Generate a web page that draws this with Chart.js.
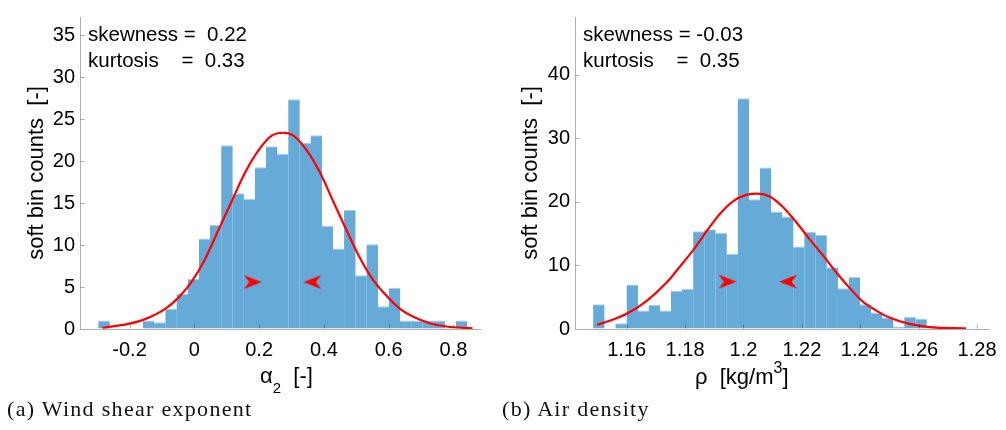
<!DOCTYPE html>
<html>
<head>
<meta charset="utf-8">
<script src="https://cdn.jsdelivr.net/npm/chart.js@4.4.1/dist/chart.umd.min.js"></script>
<style>
  body { margin: 0; width: 1006px; height: 430px; background: #fff; position: relative; overflow: hidden; }
  canvas { position: absolute; top: 0; }
  #alphaChart { left: 0; }
  #rhoChart { left: 500px; }
  .caption { position: absolute; top: 398px; font-family: "Liberation Serif", serif; font-size: 22px; line-height: 22px; letter-spacing: 1.3px; color: #111; white-space: nowrap; }
</style>
</head>
<body>
<canvas id="alphaChart" width="500" height="400"></canvas>
<canvas id="rhoChart" width="506" height="400"></canvas>
<div class="caption" style="left:7px">(a) Wind shear exponent</div>
<div class="caption" style="left:502px">(b) Air density</div>
<script>
// ---- wind shear exponent alpha_2 ----
const alphaBins = [-0.2788, -0.2443, -0.2098, -0.1753, -0.1408, -0.1063, -0.0718, -0.0373, -0.0028,
  0.0317, 0.0662, 0.1007, 0.1352, 0.1697, 0.2042, 0.2387, 0.2732, 0.3077, 0.3422, 0.3767, 0.4112,
  0.4457, 0.4802, 0.5147, 0.5492, 0.5837, 0.6182, 0.6527, 0.6872, 0.7217, 0.7562, 0.7907, 0.8252];
const alphaCounts = [1, 0, 0, 0, 1, 0.8, 2.4, 4.2, 6.0, 10.8, 12.4, 21.9, 16.2, 15.5, 19.3, 21.8, 20.9,
  27.4, 22.2, 23.1, 12.3, 9.6, 14.2, 6.4, 10.1, 2.7, 4.9, 1, 1, 1, 1, 0, 1];
const alphaFitX = [-0.284, -0.204, -0.152, -0.090, -0.049, -0.008, 0.033, 0.074, 0.115, 0.156, 0.198,
  0.239, 0.275, 0.306, 0.347, 0.388, 0.429, 0.470, 0.511, 0.552, 0.594, 0.635, 0.676, 0.727, 0.779, 0.859];
const alphaFitY = [0.15, 0.61, 1.18, 2.4, 3.74, 5.65, 8.33, 11.77, 15.2, 18.6, 21.3,
  23.05, 23.4, 23.05, 21.3, 18.65, 15.2, 11.77, 8.5, 5.85, 3.93, 2.4, 1.45, 0.69, 0.3, 0.07];
const alphaArrowX = [0.208, 0.3365];
const alphaArrowY = [5.6, 5.6];
const alphaTicksX = [-0.2, 0, 0.2, 0.4, 0.6, 0.8];
const alphaTicksY = [0, 5, 10, 15, 20, 25, 30, 35];
const alphaStats = ['skewness =  0.22', 'kurtosis    =  0.33'];

// ---- air density rho ----
const rhoBins = [1.15048, 1.15429, 1.15809, 1.16190, 1.16570, 1.16951, 1.17331, 1.17712, 1.18092, 1.18473,
  1.18853, 1.19234, 1.19614, 1.19995, 1.20375, 1.20756, 1.21136, 1.21517, 1.21897, 1.22278,
  1.22658, 1.23039, 1.23419, 1.23800, 1.24180, 1.24561, 1.24941, 1.25322, 1.25702, 1.26083];
const rhoCounts = [3.9, 0, 0.9, 7.0, 2.9, 3.8, 2.9, 6.0, 6.3, 15.4, 15.7, 15.1, 11.8, 36.3, 20.4,
  25.4, 18.5, 17.7, 13.0, 15.3, 14.8, 9.7, 6.4, 8.2, 3.9, 2.6, 1.8, 0.4, 1.9, 1.6];
const rhoFitX = [1.1499, 1.1554, 1.1600, 1.1668, 1.1737, 1.1782, 1.1828, 1.1874, 1.1919, 1.1964, 1.2010,
  1.2050, 1.2090, 1.2135, 1.2181, 1.2227, 1.2272, 1.2318, 1.2363, 1.2409, 1.2455, 1.2500, 1.2568, 1.2637, 1.2762];
const rhoFitY = [0.65, 1.5, 2.4, 4.4, 7.3, 9.8, 12.4, 15.4, 18.1, 20.1, 21.1,
  21.3, 20.85, 19.2, 16.8, 14.1, 11.6, 8.9, 6.5, 4.3, 2.9, 1.8, 0.8, 0.3, 0.1];
const rhoArrowX = [1.1976, 1.2122];
const rhoArrowY = [7.45, 7.45];
const rhoTicksX = [1.16, 1.18, 1.2, 1.22, 1.24, 1.26, 1.28];
const rhoTicksY = [0, 10, 20, 30, 40];
const rhoStats = ['skewness = -0.03', 'kurtosis    =  0.35'];

const SANS = '"Liberation Sans", Arial, sans-serif';
const AXIS = '#b0b0b0';

// arrowhead marker with its tip at the centre of the image
function arrowHead(dir) {
  const c = document.createElement('canvas');
  c.width = 38; c.height = 15;
  const g = c.getContext('2d');
  g.fillStyle = '#ff0000';
  g.translate(19, 7.5);
  g.scale(dir, 1);
  g.beginPath();
  g.moveTo(0, 0);
  g.lineTo(-18, -7);
  g.lineTo(-12.5, 0);
  g.lineTo(-18, 7);
  g.closePath();
  g.fill();
  return c;
}

// inward tick marks, axis titles (with sub/superscripts) and the stats text
const panelText = {
  id: 'panelText',
  afterDatasetsDraw(chart, args, opts) {
    // semi-transparent so the ticks read darker where they sit on a bar
    const { ctx, chartArea: a, scales } = chart;
    ctx.save();
    ctx.strokeStyle = 'rgba(0,0,0,0.31)';
    ctx.lineWidth = 1;
    ctx.beginPath();
    scales.x.ticks.forEach(t => {
      const px = Math.round(scales.x.getPixelForValue(t.value)) + 0.5;
      ctx.moveTo(px, a.bottom - 0.5); ctx.lineTo(px, a.bottom - 4.5);
    });
    scales.y.ticks.forEach(t => {
      const py = Math.round(scales.y.getPixelForValue(t.value)) + 0.5;
      if (t.value === 0) return;
      ctx.moveTo(a.left + 0.5, py); ctx.lineTo(a.left + 4.5, py);
    });
    ctx.stroke();
    ctx.restore();
  },
  afterDraw(chart, args, opts) {
    const { ctx, chartArea: a } = chart;
    ctx.save();
    ctx.fillStyle = '#000';
    ctx.textAlign = 'left';
    ctx.textBaseline = 'alphabetic';

    // stats in the upper left corner
    ctx.font = '20.5px ' + SANS;
    opts.stats.forEach((s, i) => ctx.fillText(s, a.left + 8, a.top + 24 + i * 26));

    // x axis title
    let x = opts.xTitleX;
    opts.xTitle.forEach(p => {
      ctx.font = p.size + 'px ' + SANS;
      ctx.fillText(p.text, x, opts.xTitleY + (p.dy || 0));
      x += ctx.measureText(p.text).width;
    });

    // y axis title
    ctx.font = '22px ' + SANS;
    ctx.textAlign = 'center';
    ctx.translate(opts.yTitleX, (a.top + a.bottom) / 2);
    ctx.rotate(-Math.PI / 2);
    ctx.fillText('soft bin counts  [-]', 0, 0);
    ctx.restore();
  }
};

function histChart(id, d) {
  new Chart(document.getElementById(id), {
    type: 'bar',
    data: {
      datasets: [{
        type: 'line',
        data: d.arrowX.map((v, i) => ({ x: v, y: d.arrowY[i] })),
        showLine: false,
        pointStyle: [arrowHead(1), arrowHead(-1)],
        pointRadius: 8,
        order: 1
      }, {
        type: 'line',
        data: d.fitX.map((v, i) => ({ x: v, y: d.fitY[i] })),
        borderColor: '#ff0000',
        borderWidth: 2.2,
        pointRadius: 0,
        cubicInterpolationMode: 'monotone',
        order: 2
      }, {
        data: d.bins.map((v, i) => ({ x: v, y: d.counts[i] })),
        backgroundColor: '#66aad7',
        borderColor: '#a6cce8',
        borderWidth: { top: 1, left: 0, right: 0, bottom: 0 },
        borderSkipped: 'bottom',
        // a hair wider than the bin so neighbouring bars leave no seam
        barPercentage: 1.04,
        categoryPercentage: 1,
        grouped: false,
        order: 3
      }]
    },
    options: {
      responsive: false,
      animation: false,
      devicePixelRatio: 1,
      layout: { padding: { left: 0, top: 5, right: d.padRight, bottom: 0 } },
      plugins: {
        legend: { display: false },
        tooltip: { enabled: false },
        panelText: d.text
      },
      scales: {
        x: {
          type: 'linear',
          offset: false,
          min: d.xMin,
          max: d.xMax,
          afterBuildTicks: s => { s.ticks = d.ticksX.map(v => ({ value: v })); },
          afterFit: s => { s.height = 71; },
          grid: { drawOnChartArea: false, drawTicks: false },
          border: { color: AXIS, width: 1, z: 1 },
          ticks: { color: '#000', font: { family: SANS, size: 20 }, padding: 9, maxRotation: 0,
                   callback: v => String(v) }
        },
        y: {
          min: 0,
          max: d.yMax,
          afterBuildTicks: s => { s.ticks = d.ticksY.map(v => ({ value: v })); },
          afterFit: s => { s.width = d.yWidth; },
          grid: { drawOnChartArea: false, drawTicks: false },
          border: { color: AXIS, width: 1 },
          ticks: { color: '#000', font: { family: SANS, size: 20 }, padding: 5 }
        }
      }
    },
    plugins: [panelText]
  });
}

histChart('alphaChart', {
  bins: alphaBins, counts: alphaCounts, fitX: alphaFitX, fitY: alphaFitY,
  arrowX: alphaArrowX, arrowY: alphaArrowY, ticksX: alphaTicksX, ticksY: alphaTicksY,
  xMin: -0.353, xMax: 0.882, yMax: 37.2, yWidth: 80, padRight: 20,
  text: {
    stats: alphaStats,
    xTitle: [{ text: 'α', size: 22 }, { text: '2', size: 15, dy: 10 }, { text: '  [-]', size: 22 }],
    xTitleX: 260, xTitleY: 383, yTitleX: 43
  }
});

histChart('rhoChart', {
  bins: rhoBins, counts: rhoCounts, fitX: rhoFitX, fitY: rhoFitY,
  arrowX: rhoArrowX, arrowY: rhoArrowY, ticksX: rhoTicksX, ticksY: rhoTicksY,
  xMin: 1.1423, xMax: 1.2842, yMax: 49.1, yWidth: 75, padRight: 16,
  text: {
    stats: rhoStats,
    xTitle: [{ text: 'ρ  [kg/m', size: 22 }, { text: '3', size: 16, dy: -11 }, { text: ']', size: 22 }],
    xTitleX: 195, xTitleY: 384, yTitleX: 37
  }
});
</script>
</body>
</html>
